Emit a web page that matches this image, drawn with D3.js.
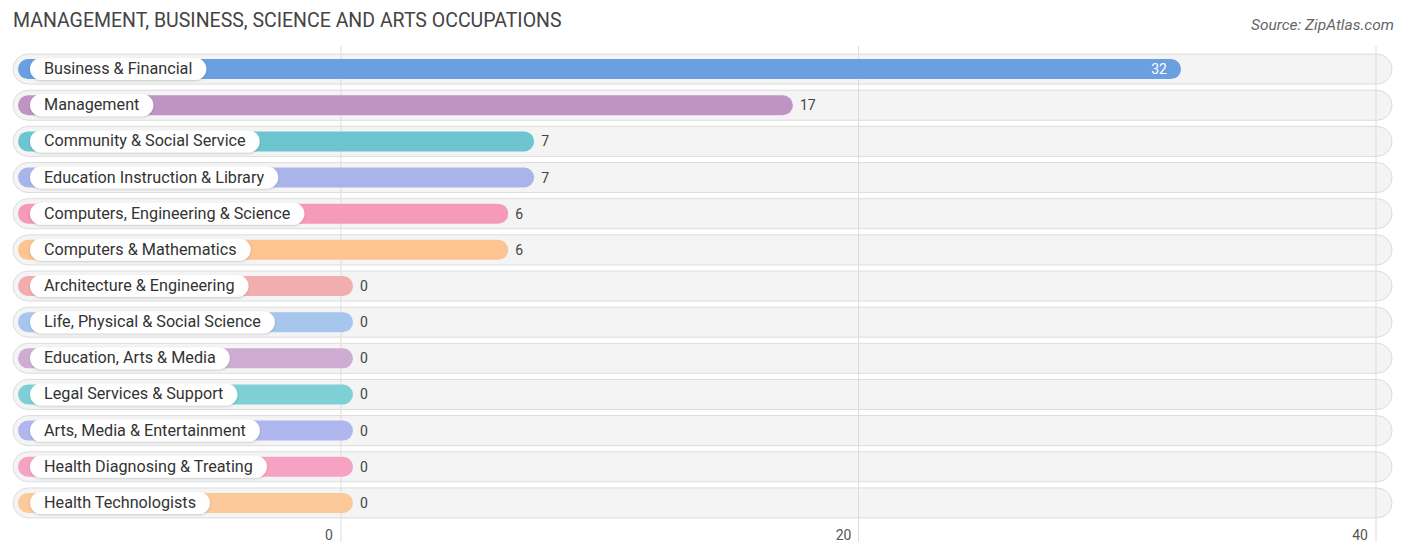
<!doctype html>
<html>
<head>
<script src="https://cdn.jsdelivr.net/npm/d3@7"></script>
<style>
body{margin:0;background:#fff;font-family:Roboto,"Noto Sans",sans-serif;}
</style>
</head>
<body>
<svg width="1406" height="559"></svg>
<script>
var categories = ["Business & Financial","Management","Community & Social Service","Education Instruction & Library","Computers, Engineering & Science","Computers & Mathematics","Architecture & Engineering","Life, Physical & Social Science","Education, Arts & Media","Legal Services & Support","Arts, Media & Entertainment","Health Diagnosing & Treating","Health Technologists"];
var values = [32,17,7,7,6,6,0,0,0,0,0,0,0];
var colors = ["#6a9fe0","#bf94c4","#6cc5cf","#a9b4ea","#f59ab8","#fbc490","#f2aeae","#a6c6ee","#cfadd2","#7fcfd6","#b0b6ee","#f6a3c3","#fbc99a"];
var ticks = [0,20,40];

var svg = d3.select("svg");
var x = d3.scaleLinear().domain([0,40]).range([341,1376]);
var y = d3.scaleBand().domain(categories).range([51,521]).paddingInner(0);

svg.append("text").attr("x",13).attr("y",27).text("MANAGEMENT, BUSINESS, SCIENCE AND ARTS OCCUPATIONS")
  .style("font-size","19.5px").style("fill","#444");
svg.append("text").attr("x",1394).attr("y",30).attr("text-anchor","end").text("Source: ZipAtlas.com")
  .style("font-size","15.5px").style("fill","#666").style("font-style","italic");

var defs = svg.append("defs");
var f = defs.append("filter").attr("id","sh").attr("x","-5%").attr("y","-30%").attr("width","110%").attr("height","160%");
f.append("feDropShadow").attr("dx",0).attr("dy",1).attr("stdDeviation",1.2).attr("flood-color","#000").attr("flood-opacity",0.18);

var rows = svg.selectAll("g.row").data(categories).enter().append("g")
  .attr("transform", function(d){ return "translate(0,"+(y(d)+y.bandwidth()/2)+")"; });

rows.append("rect").attr("x",13).attr("y",-15).attr("width",1379).attr("height",30).attr("rx",15)
  .style("fill","#f4f4f4").style("stroke","#dcdcdc").style("stroke-width",1);

// grid lines between row backgrounds and bars
svg.insert("g","g").attr("class","gridbelow");
var grid = svg.append("g");
grid.selectAll("line").data(ticks).enter().append("line")
  .attr("x1",function(d){return x(d);}).attr("x2",function(d){return x(d);})
  .attr("y1",46).attr("y2",542).style("stroke","#ddd").style("stroke-width",1);

var marks = svg.selectAll("g.mark").data(categories).enter().append("g")
  .attr("transform", function(d){ return "translate(0,"+(y(d)+y.bandwidth()/2)+")"; });

marks.append("rect").attr("x",18).attr("y",-10)
  .attr("width",function(d,i){ return x(values[i])+12-18; }).attr("height",20).attr("rx",10)
  .style("fill",function(d,i){return colors[i];});

marks.append("text").attr("class","lbl").attr("x",44).attr("y",5).text(function(d){return d;})
  .style("font-size","16.2px").style("fill","#333");
marks.each(function(){
  var g = d3.select(this), t = g.select("text.lbl"), w = t.node().getComputedTextLength();
  g.insert("rect","text.lbl").attr("x",30).attr("y",-11).attr("width",w+28).attr("height",22).attr("rx",11)
    .style("fill","#fff").attr("filter","url(#sh)");
});

marks.append("text")
  .attr("x",function(d,i){ return i===0 ? x(values[i])-2 : x(values[i])+19; })
  .attr("y",5).attr("text-anchor",function(d,i){return i===0?"end":"start";})
  .text(function(d,i){return values[i];})
  .style("font-size","14px").style("fill",function(d,i){return i===0?"#fff":"#444";});

svg.selectAll("text.tick").data(ticks).enter().append("text")
  .attr("x",function(d,i){return x(d)-(i===0?12:i===1?15:16);}).attr("y",540)
  .attr("text-anchor","middle").text(function(d){return d;})
  .style("font-size","14px").style("fill","#555");
</script>
</body>
</html>
